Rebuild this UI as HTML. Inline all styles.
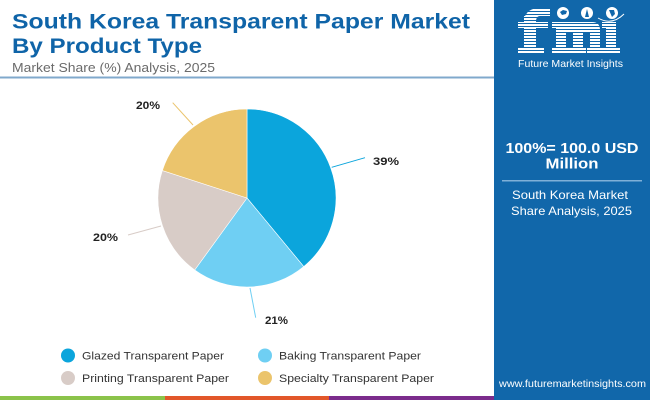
<!DOCTYPE html>
<html><head><meta charset="utf-8"><style>
html,body{margin:0;padding:0;background:#fff;}
svg{display:block;}
</style></head><body>
<svg width="650" height="400" viewBox="0 0 650 400" xmlns="http://www.w3.org/2000/svg" font-family="'Liberation Sans', sans-serif">
<defs>
<pattern id="stripes" width="4" height="3" patternUnits="userSpaceOnUse">
<rect x="0" y="2" width="4" height="1" fill="#1167aa"/>
</pattern>
</defs>
<rect width="650" height="400" fill="#fff"/>
<!-- Title -->
<text x="12" y="28.5" font-size="21" font-weight="bold" fill="#0f64a8" textLength="458" lengthAdjust="spacingAndGlyphs">South Korea Transparent Paper Market</text>
<text x="12" y="53" font-size="21" font-weight="bold" fill="#0f64a8" textLength="190" lengthAdjust="spacingAndGlyphs">By Product Type</text>
<text x="12" y="72" font-size="13" fill="#6b6b6b" textLength="203" lengthAdjust="spacingAndGlyphs">Market Share (%) Analysis, 2025</text>
<rect x="0" y="76.5" width="494" height="2" fill="#80a9cc"/>

<!-- Pie -->
<g stroke="#fff" stroke-width="0.6">
<path d="M247,198 L247,109 A89,89 0 0 1 303.73,266.57 Z" fill="#0ba5dc"/>
<path d="M247,198 L303.73,266.57 A89,89 0 0 1 194.69,270 Z" fill="#6fcff3"/>
<path d="M247,198 L194.69,270 A89,89 0 0 1 162.35,170.5 Z" fill="#d8ccc7"/>
<path d="M247,198 L162.35,170.5 A89,89 0 0 1 247,109 Z" fill="#ebc46c"/>
</g>
<!-- leader lines -->
<line x1="331.7" y1="167.3" x2="365" y2="157.7" stroke="#0ba5dc" stroke-width="1"/>
<line x1="250" y1="288" x2="255.7" y2="317.7" stroke="#6fcff3" stroke-width="1"/>
<line x1="161" y1="226" x2="128" y2="235" stroke="#d8ccc7" stroke-width="1"/>
<line x1="193" y1="125" x2="172.7" y2="102.7" stroke="#ebc46c" stroke-width="1"/>
<g font-size="11" font-weight="bold" fill="#222">
<text x="373" y="165" textLength="26" lengthAdjust="spacingAndGlyphs">39%</text>
<text x="265" y="324" textLength="23" lengthAdjust="spacingAndGlyphs">21%</text>
<text x="93" y="241" textLength="25" lengthAdjust="spacingAndGlyphs">20%</text>
<text x="136" y="109" textLength="24" lengthAdjust="spacingAndGlyphs">20%</text>
</g>

<!-- Legend -->
<circle cx="68" cy="355.5" r="7" fill="#0ba5dc"/>
<circle cx="68" cy="378" r="7" fill="#d8ccc7"/>
<circle cx="265" cy="355.5" r="7" fill="#6fcff3"/>
<circle cx="265" cy="378" r="7" fill="#ebc46c"/>
<g font-size="11" fill="#333">
<text x="82" y="359.5" textLength="142" lengthAdjust="spacingAndGlyphs">Glazed Transparent Paper</text>
<text x="82" y="382" textLength="147" lengthAdjust="spacingAndGlyphs">Printing Transparent Paper</text>
<text x="279" y="359.5" textLength="142" lengthAdjust="spacingAndGlyphs">Baking Transparent Paper</text>
<text x="279" y="382" textLength="155" lengthAdjust="spacingAndGlyphs">Specialty Transparent Paper</text>
</g>

<!-- Right panel -->
<rect x="494" y="0" width="156" height="400" fill="#1167aa"/>
<!-- logo -->
<g fill="#fff">
<!-- f -->
<rect x="524" y="16" width="12" height="38"/>
<path d="M524,20 Q526,8 540,8 L550,8 L550,16 L540,16 Q536,16 536,22 Z"/>
<rect x="518" y="22" width="30" height="6"/>
<rect x="518" y="48" width="26" height="6"/>
<!-- m -->
<rect x="552" y="22" width="14" height="6"/>
<path d="M556,22 L592,22 Q600,22 600,30 L600,54 L590,54 L590,32 L583,32 L583,54 L573,54 L573,32 L566,32 L566,54 L556,54 Z"/>
<rect x="552" y="48" width="18" height="6"/>
<rect x="570" y="48" width="16" height="6"/>
<rect x="587" y="48" width="17" height="6"/>
<!-- i -->
<rect x="602" y="22" width="14" height="6"/>
<rect x="606" y="22" width="10" height="32"/>
<rect x="602" y="48" width="18" height="6"/>
</g>
<rect x="516" y="6" width="106" height="50" fill="url(#stripes)"/>
<circle cx="563" cy="13" r="6" fill="#fff"/>
<circle cx="587" cy="13" r="6" fill="#fff"/>
<circle cx="612" cy="13" r="6" fill="#fff"/>
<path d="M560,12 l3,-2 l4,1 l-1,3 l-4,1 z" fill="#1167aa"/>
<path d="M585,17 l2,-8 l2,8 z" fill="#1167aa"/>
<path d="M609,10 l5,0 l1,4 l-3,3 z" fill="#1167aa"/>
<path d="M598,18 Q612,26 624,14" stroke="#fff" stroke-width="1" fill="none"/>
<text x="518" y="67" font-size="10.5" fill="#fff" textLength="105" lengthAdjust="spacingAndGlyphs">Future Market Insights</text>

<g fill="#fff" text-anchor="middle">
<text x="572" y="153" font-size="15" font-weight="bold" textLength="133" lengthAdjust="spacingAndGlyphs">100%= 100.0 USD</text>
<text x="572" y="168.5" font-size="15" font-weight="bold" textLength="53" lengthAdjust="spacingAndGlyphs">Million</text>
<text x="570" y="199" font-size="12" textLength="116" lengthAdjust="spacingAndGlyphs">South Korea Market</text>
<text x="571.5" y="215" font-size="12" textLength="121" lengthAdjust="spacingAndGlyphs">Share Analysis, 2025</text>
</g>
<rect x="502" y="180" width="140" height="1.5" fill="#7fb0d8"/>
<text x="499" y="387" font-size="10" fill="#fff" textLength="147" lengthAdjust="spacingAndGlyphs">www.futuremarketinsights.com</text>

<!-- bottom bars -->
<rect x="0" y="396" width="165" height="4" fill="#8bc34a"/>
<rect x="165" y="396" width="164" height="4" fill="#e2572a"/>
<rect x="329" y="396" width="165" height="4" fill="#7b2c8c"/>
</svg>
</body></html>
